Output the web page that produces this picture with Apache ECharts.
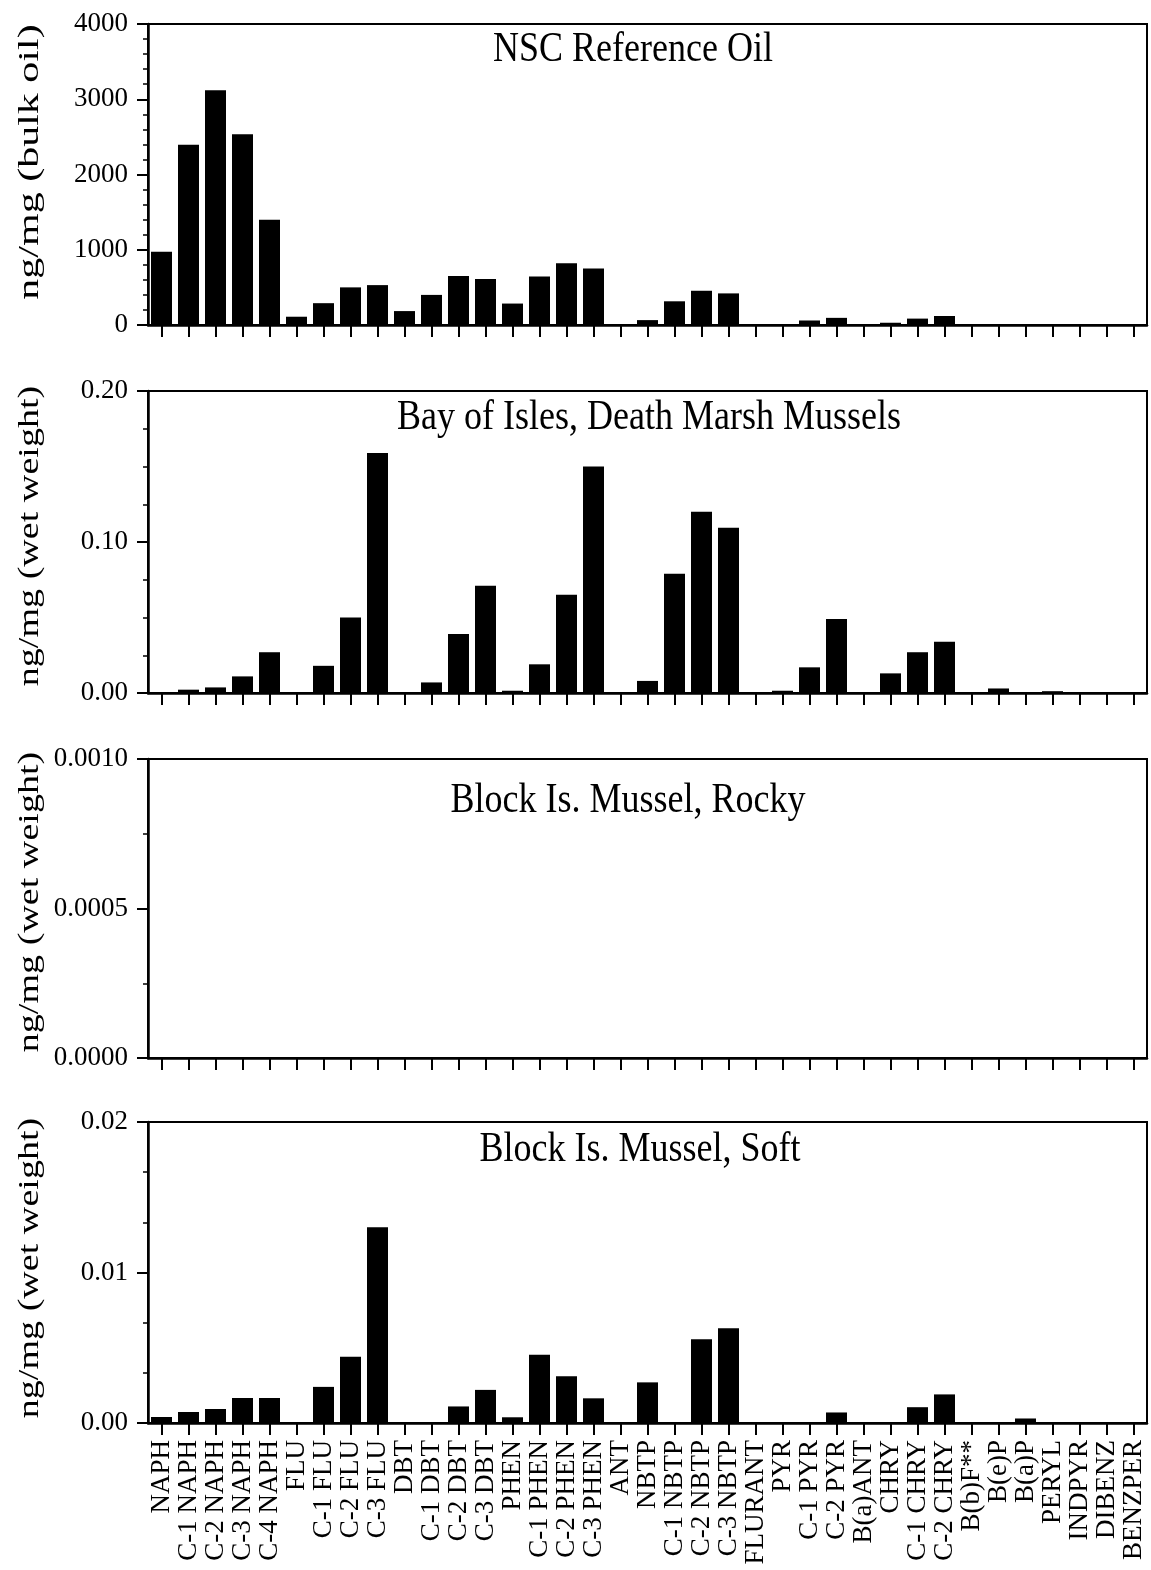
<!DOCTYPE html>
<html>
<head>
<meta charset="utf-8">
<script src="https://cdn.jsdelivr.net/npm/echarts@6/dist/echarts.min.js"></script>
<style>
  html, body { margin: 0; padding: 0; background: #ffffff; }
  #chart { width: 1151px; height: 1570px; }
</style>
</head>
<body>
<div id="chart"></div>
<script>
// PAH analytes, in the order they are plotted
const categories = [
  'NAPH', 'C-1 NAPH', 'C-2 NAPH', 'C-3 NAPH', 'C-4 NAPH',
  'FLU', 'C-1 FLU', 'C-2 FLU', 'C-3 FLU',
  'DBT', 'C-1 DBT', 'C-2 DBT', 'C-3 DBT',
  'PHEN', 'C-1 PHEN', 'C-2 PHEN', 'C-3 PHEN', 'ANT',
  'NBTP', 'C-1 NBTP', 'C-2 NBTP', 'C-3 NBTP',
  'FLURANT', 'PYR', 'C-1 PYR', 'C-2 PYR',
  'B(a)ANT', 'CHRY', 'C-1 CHRY', 'C-2 CHRY',
  'B(b)F**', 'B(e)P', 'B(a)P', 'PERYL', 'INDPYR', 'DIBENZ', 'BENZPER'
];

// ng/mg (bulk oil)
const nscReferenceOil = [
  975, 2395, 3120, 2535, 1400,
  110, 290, 500, 530,
  185, 400, 650, 610,
  285, 645, 820, 750, 0,
  65, 315, 455, 420,
  0, 0, 60, 95,
  0, 30, 85, 120,
  0, 0, 0, 0, 0, 0, 0
];

// ng/mg (wet weight)
const bayOfIslesMussels = [
  0, 0.0022, 0.0037, 0.011, 0.027,
  0, 0.018, 0.050, 0.159,
  0, 0.007, 0.039, 0.071,
  0.0015, 0.019, 0.065, 0.150, 0,
  0.008, 0.079, 0.120, 0.1095,
  0, 0.0015, 0.017, 0.049,
  0, 0.013, 0.027, 0.034,
  0, 0.003, 0, 0.0012, 0, 0, 0
];

// ng/mg (wet weight) -- nothing detected
const blockIsRocky = [
  0, 0, 0, 0, 0,
  0, 0, 0, 0,
  0, 0, 0, 0,
  0, 0, 0, 0, 0,
  0, 0, 0, 0,
  0, 0, 0, 0,
  0, 0, 0, 0,
  0, 0, 0, 0, 0, 0, 0
];

// ng/mg (wet weight)
const blockIsSoft = [
  0.0004, 0.00073, 0.00093, 0.00166, 0.00166,
  0, 0.0024, 0.0044, 0.0130,
  0, 0, 0.0011, 0.0022,
  0.00038, 0.00453, 0.0031, 0.00164, 0,
  0.0027, 0, 0.00557, 0.0063,
  0, 0, 0, 0.0007,
  0, 0, 0.00105, 0.0019,
  0, 0, 0.0003, 0, 0, 0, 0
];

const panelTitles = [
  'NSC Reference Oil',
  'Bay of Isles, Death Marsh Mussels',
  'Block Is. Mussel, Rocky',
  'Block Is. Mussel, Soft'
];
const yAxisNames = [
  'ng/mg (bulk oil)',
  'ng/mg (wet weight)',
  'ng/mg (wet weight)',
  'ng/mg (wet weight)'
];
const panelData = [nscReferenceOil, bayOfIslesMussels, blockIsRocky, blockIsSoft];

// Axis scales: max, major interval, minor subdivisions, decimals on tick labels
const yMax = [4000, 0.20, 0.0010, 0.02];
const yInterval = [1000, 0.10, 0.0005, 0.01];
const yMinorSplit = [5, 4, 2, 3];
const yDecimals = [0, 2, 4, 2];

// Panel placement on the page
const gridTop = [24, 391, 759, 1122];
const gridHeight = [301, 302, 299, 301];
const titlePos = [[633, 50], [649, 418], [628, 801], [640, 1150]];
const namePos = [[30, 162], [30, 536], [30, 902], [30, 1268]];
const nameStretch = [1.4, 1.27, 1.27, 1.27];

const FONT = '"Liberation Serif", "Times New Roman", serif';
const INK = '#000000';

const chart = echarts.init(document.getElementById('chart'), null, { renderer: 'canvas' });

const grids = [], xAxes = [], yAxes = [], series = [], graphics = [];

for (let i = 0; i < 4; i++) {
  grids.push({
    left: 148, right: 4, top: gridTop[i], height: gridHeight[i],
    show: true, borderColor: INK, borderWidth: 2,
    backgroundColor: 'transparent',
    containLabel: false, outerBoundsMode: 'none'
  });

  const isBottom = i === 3;
  xAxes.push({
    gridIndex: i,
    type: 'category',
    data: categories,
    axisLine: { show: true, lineStyle: { color: INK, width: 2.5 } },
    axisTick: { show: true, alignWithLabel: true, interval: 0, length: 12, lineStyle: { color: INK, width: 2 } },
    axisLabel: isBottom ? {
      show: true, interval: 0, rotate: 90, margin: 17,
      fontFamily: FONT, fontSize: 27, color: INK
    } : { show: false },
    splitLine: { show: false }
  });

  const dec = yDecimals[i];
  yAxes.push({
    gridIndex: i,
    type: 'value',
    min: 0, max: yMax[i], interval: yInterval[i],
    axisLine: { show: true, lineStyle: { color: INK, width: 2.5 } },
    axisTick: { show: true, length: 11, lineStyle: { color: INK, width: 2 } },
    minorTick: { show: true, splitNumber: yMinorSplit[i], length: 5, lineStyle: { color: INK, width: 1.5 } },
    splitLine: { show: false },
    minorSplitLine: { show: false },
    axisLabel: {
      color: INK, fontFamily: FONT, fontSize: 27, margin: 20,
      formatter: v => Number(v).toFixed(dec)
    }
  });

  series.push({
    type: 'bar',
    xAxisIndex: i, yAxisIndex: i,
    data: panelData[i],
    barWidth: 21,
    itemStyle: { color: INK },
    silent: true
  });

  graphics.push({
    type: 'text',
    x: titlePos[i][0], y: titlePos[i][1],
    scaleY: 1.15,
    silent: true,
    style: {
      text: panelTitles[i], font: '36px ' + FONT, fill: INK,
      textAlign: 'center', textVerticalAlign: 'middle',
      align: 'center', verticalAlign: 'middle'
    }
  });

  graphics.push({
    type: 'text',
    x: namePos[i][0], y: namePos[i][1],
    rotation: Math.PI / 2,
    scaleX: nameStretch[i],
    silent: true,
    style: {
      text: yAxisNames[i], font: '30px ' + FONT, fill: INK,
      textAlign: 'center', textVerticalAlign: 'middle',
      align: 'center', verticalAlign: 'middle'
    }
  });
}

chart.setOption({
  backgroundColor: '#ffffff',
  animation: false,
  grid: grids,
  xAxis: xAxes,
  yAxis: yAxes,
  series: series,
  graphic: { elements: graphics }
});
</script>
</body>
</html>
